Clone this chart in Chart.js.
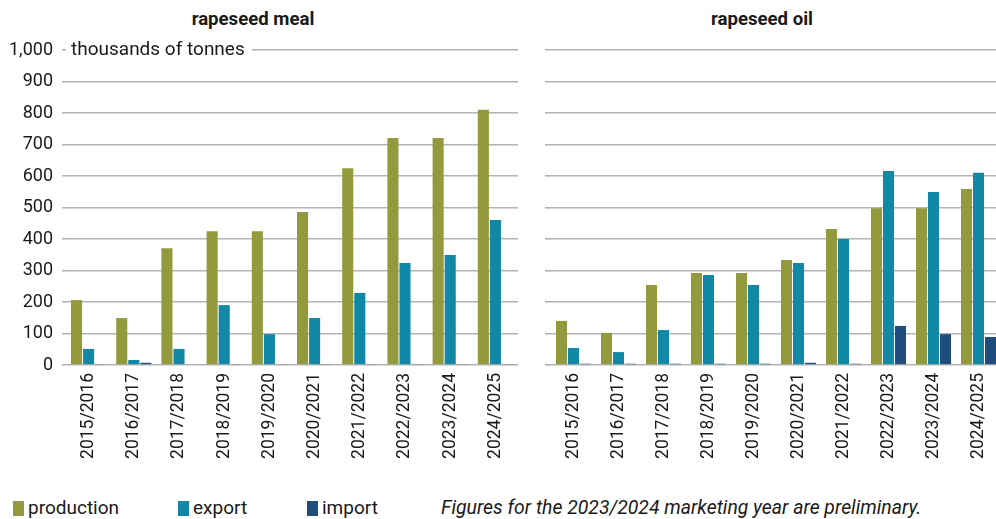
<!DOCTYPE html>
<html>
<head>
<meta charset="utf-8">
<script src="https://cdn.jsdelivr.net/npm/chart.js@4.4.0/dist/chart.umd.min.js"></script>
<style>
    body { margin: 0; background: #fff; }
    #wrap { position: relative; width: 996px; height: 519px; overflow: hidden; background: #fff; font-family: Roboto, sans-serif; color: #1a1a1a; }
    .title { position: absolute; top: 8px; font-weight: bold; font-size: 18.6px; line-height: 22px; transform: translateX(-50%); white-space: nowrap; }
    #mealCanvas { position: absolute; left: 0; top: 0; }
    #oilCanvas { position: absolute; left: 520px; top: 0; }
    .key { position: absolute; top: 497px; font-size: 19px; line-height: 22px; white-space: nowrap; }
    .key i { position: absolute; left: -15px; top: 4px; width: 11px; height: 15px; }
    .note { position: absolute; left: 441px; top: 497px; font-size: 19.4px; line-height: 22px; font-style: italic; white-space: nowrap; }
</style>
</head>
<body>
<div id="wrap">
    <div class="title" style="left:253px">rapeseed meal</div>
    <div class="title" style="left:762px">rapeseed oil</div>
    <canvas id="mealCanvas" width="520" height="470"></canvas>
    <canvas id="oilCanvas" width="486" height="470"></canvas>
    <div class="key" style="left:28px"><i style="background:#939a3e"></i>production</div>
    <div class="key" style="left:193px"><i style="background:#1088a6"></i>export</div>
    <div class="key" style="left:322px"><i style="background:#1f4d7c"></i>import</div>
    <div class="note">Figures for the 2023/2024 marketing year are preliminary.</div>
</div>

<script>
    // marketing years
    var years = ["2015/2016", "2016/2017", "2017/2018", "2018/2019", "2019/2020",
                 "2020/2021", "2021/2022", "2022/2023", "2023/2024", "2024/2025"];

    // rapeseed meal, thousands of tonnes
    var mealProduction = [206, 149, 371, 425, 425, 486, 625, 721, 721, 810];
    var mealExport = [51, 16, 51, 190, 98, 149, 229, 324, 349, 460];
    var mealImport = [3, 7, 0, 3, 3, 3, 3, 3, 3, 3];

    // rapeseed oil, thousands of tonnes
    var oilProduction = [140, 102, 254, 292, 292, 333, 432, 498, 498, 559];
    var oilExport = [54, 41, 111, 286, 254, 324, 400, 616, 549, 610];
    var oilImport = [4, 4, 4, 4, 4, 7, 4, 124, 98, 89];

    // value axis
    var yMax = 1000;
    var yStep = 100;
    var unitText = "thousands of tonnes";

    var colors = {
        production: "#939a3e",
        export: "#1088a6",
        import: "#1f4d7c"
    };

    Chart.defaults.font.family = "Roboto, sans-serif";
    Chart.defaults.color = "#1a1a1a";

    // unit text sits on the top gridline, with white behind it
    var unitLabel = {
        id: "unitLabel",
        afterDraw: function (chart) {
            var ctx = chart.ctx;
            var y = chart.scales.y.getPixelForValue(yMax);
            var x = chart.chartArea.left;
            ctx.save();
            ctx.font = "19px Roboto, sans-serif";
            var w = ctx.measureText(unitText).width;
            ctx.fillStyle = "#fff";
            ctx.fillRect(x, y - 4, w + 12, 8);
            ctx.fillStyle = "#1a1a1a";
            ctx.textBaseline = "middle";
            ctx.fillText(unitText, x + 5, y);
            ctx.restore();
        }
    };

    function makeDatasets(prod, exp, imp) {
        return [
            { label: "production", data: prod, backgroundColor: colors.production },
            { label: "export", data: exp, backgroundColor: colors.export },
            { label: "import", data: imp, backgroundColor: colors.import }
        ];
    }

    function makeChart(canvasId, datasets, showLabels, axisWidth, tickLen, padRight, plugins) {
        var ctx = document.getElementById(canvasId).getContext("2d");
        return new Chart(ctx, {
            type: "bar",
            data: { labels: years, datasets: datasets },
            plugins: plugins,
            options: {
                responsive: false,
                animation: false,
                locale: "en-US",
                datasets: {
                    bar: { barPercentage: 0.92, categoryPercentage: 0.8, borderWidth: 0 }
                },
                layout: { padding: { top: 50, right: padRight, bottom: 0, left: 0 } },
                plugins: {
                    legend: { display: false },
                    tooltip: { enabled: false }
                },
                scales: {
                    x: {
                        grid: { display: false, drawTicks: false },
                        border: { display: false },
                        ticks: {
                            minRotation: 90,
                            maxRotation: 90,
                            padding: 8,
                            autoSkip: false,
                            font: { size: 17.5 }
                        },
                        afterFit: function (scale) {
                            scale.height = 105;
                            scale.paddingLeft = 0;
                            scale.paddingRight = 0;
                        }
                    },
                    y: {
                        min: 0,
                        max: yMax,
                        grid: { color: "#b4b4b4", lineWidth: 1.6, tickLength: tickLen },
                        border: { display: false },
                        ticks: {
                            display: showLabels,
                            stepSize: yStep,
                            padding: 9,
                            font: { size: 18 }
                        },
                        afterFit: function (scale) {
                            scale.width = axisWidth;
                            scale.paddingTop = 0;
                            scale.paddingBottom = 0;
                        }
                    }
                }
            }
        });
    }

    var mealChart = makeChart("mealCanvas", makeDatasets(mealProduction, mealExport, mealImport), true, 66, 4, 2, [unitLabel]);
    var oilChart = makeChart("oilCanvas", makeDatasets(oilProduction, oilExport, oilImport), false, 31, 6, 5, []);
</script>
</body>
</html>
